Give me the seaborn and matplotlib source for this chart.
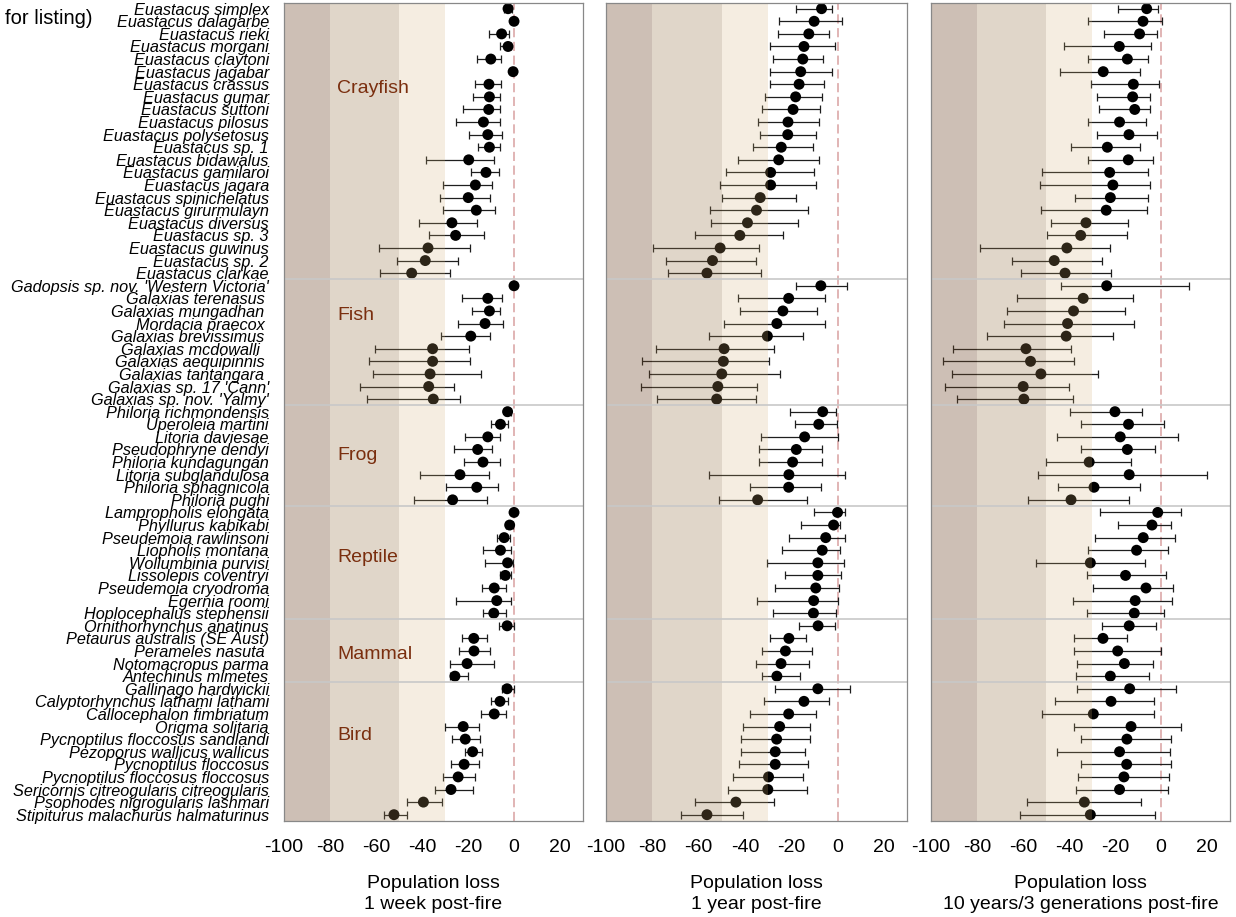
import matplotlib
matplotlib.use("Agg")
import numpy as np
import pandas as pd
import matplotlib.pyplot as plt
import seaborn as sns
from matplotlib import font_manager

species = [
    "Euastacus simplex", "Euastacus dalagarbe", "Euastacus rieki", "Euastacus morgani",
    "Euastacus claytoni", "Euastacus jagabar", "Euastacus crassus", "Euastacus gumar",
    "Euastacus suttoni", "Euastacus pilosus", "Euastacus polysetosus", "Euastacus sp. 1",
    "Euastacus bidawalus", "Euastacus gamilaroi", "Euastacus jagara", "Euastacus spinichelatus",
    "Euastacus girurmulayn", "Euastacus diversus", "Euastacus sp. 3", "Euastacus guwinus",
    "Euastacus sp. 2", "Euastacus clarkae",
    "Gadopsis sp. nov. 'Western Victoria'", "Galaxias terenasus ", "Galaxias mungadhan ",
    "Mordacia praecox ", "Galaxias brevissimus ", "Galaxias mcdowalli  ", "Galaxias aequipinnis ",
    "Galaxias tantangara ", "Galaxias sp. 17 'Cann'", "Galaxias sp. nov. 'Yalmy'",
    "Philoria richmondensis", "Uperoleia martini", "Litoria daviesae", "Pseudophryne dendyi",
    "Philoria kundagungan", "Litoria subglandulosa", "Philoria sphagnicola", "Philoria pughi",
    "Lampropholis elongata", "Phyllurus kabikabi", "Pseudemoia rawlinsoni", "Liopholis montana",
    "Wollumbinia purvisi", "Lissolepis coventryi", "Pseudemoia cryodroma", "Egernia roomi",
    "Hoplocephalus stephensii",
    "Ornithorhynchus anatinus", "Petaurus australis (SE Aust)", "Perameles nasuta ",
    "Notomacropus parma", "Antechinus mimetes",
    "Gallinago hardwickii", "Calyptorhynchus lathami lathami", "Callocephalon fimbriatum",
    "Origma solitaria", "Pycnoptilus floccosus sandlandi", "Pezoporus wallicus wallicus",
    "Pycnoptilus floccosus", "Pycnoptilus floccosus floccosus",
    "Sericornis citreogularis citreogularis", "Psophodes nigrogularis lashmari",
    "Stipiturus malachurus halmaturinus",
]
groups = ["Crayfish", "Fish", "Frog", "Reptile", "Mammal", "Bird"]
group_sizes = [22, 10, 8, 9, 5, 11]

# 1 week post-fire
week_mid = [-2.6, 0, -5.4, -2.6, -10.1, -0.4, -10.9, -10.7, -11.0, -13.3, -11.4, -10.7,
            -19.7, -12.2, -16.8, -19.9, -16.4, -27.0, -25.4, -37.4, -38.6, -44.5,
            0, -11.4, -10.7, -12.6, -18.8, -35.4, -35.4, -36.5, -37.1, -35.1,
            -2.8, -5.9, -11.4, -15.8, -13.5, -23.5, -16.2, -26.7,
            0, -1.9, -4.3, -5.9, -2.8, -3.8, -8.6, -7.5, -8.8,
            -3.0, -17.5, -17.4, -20.4, -25.7,
            -3.0, -6.1, -8.6, -22.1, -21.2, -18.0, -21.7, -24.3, -27.4, -39.4, -52.2]
week_lo = [-4.5, 0, -11.0, -6.0, -16.2, -0.4, -17.1, -17.7, -22.2, -25.1, -19.6, -15.5,
           -38.1, -18.6, -31.0, -32.3, -30.9, -41.3, -36.8, -58.8, -50.9, -58.3,
           0, -22.5, -18.1, -24.2, -31.9, -60.3, -63.2, -61.3, -67.0, -63.8,
           -4.0, -10.0, -21.3, -26.2, -21.9, -41.0, -29.4, -43.6,
           0, -3.3, -7.2, -13.5, -12.5, -5.9, -13.9, -25.4, -13.3,
           -6.7, -22.6, -24.1, -27.8, -27.8,
           -5.1, -10.0, -14.5, -29.9, -26.8, -21.2, -27.4, -30.9, -34.2, -46.4, -56.5]
week_hi = [-1.0, 0, -2.2, -1.5, -5.5, -0.4, -5.5, -6.2, -6.2, -5.9, -5.2, -6.1,
           -8.7, -6.7, -9.7, -10.3, -8.1, -16.1, -13.0, -19.3, -24.3, -27.8,
           0, -5.2, -6.1, -4.8, -10.3, -19.7, -19.1, -14.2, -26.1, -23.3,
           -1.5, -2.8, -6.1, -9.4, -6.1, -10.9, -6.8, -11.7,
           0, -0.4, -1.9, -1.2, -0.4, -1.2, -3.5, -1.2, -3.3,
           0, -11.7, -10.6, -8.8, -20.1,
           0, -2.5, -3.5, -15.4, -14.9, -13.8, -15.4, -17.1, -18.0, -31.4, -46.5]

# 1 year post-fire
year_mid = [-6.9, -10.1, -12.4, -14.5, -15.0, -15.9, -16.6, -18.1, -19.2, -21.4, -21.5, -24.3,
            -25.4, -28.9, -28.9, -33.4, -35.0, -38.9, -42.2, -50.7, -54.0, -56.4,
            -7.2, -21.1, -23.6, -26.2, -30.3, -49.0, -49.3, -50.0, -51.7, -52.2,
            -6.4, -8.1, -14.2, -17.8, -19.4, -21.0, -21.1, -34.5,
            0, -1.7, -5.1, -6.6, -8.5, -8.5, -9.4, -10.3, -10.4,
            -8.4, -21.0, -22.5, -24.4, -26.2,
            -8.5, -14.5, -21.1, -25.0, -26.3, -26.9, -26.9, -29.8, -30.1, -43.9, -56.4]
year_lo = [-17.8, -25.4, -25.9, -29.2, -27.7, -29.2, -29.0, -31.2, -32.5, -34.5, -33.4, -36.6,
           -43.1, -48.3, -50.7, -49.7, -55.1, -54.6, -61.6, -79.9, -74.0, -73.3,
           -17.9, -42.9, -42.2, -49.0, -55.5, -78.6, -84.4, -81.6, -84.8, -77.9,
           -20.5, -18.2, -33.2, -34.1, -33.8, -55.5, -37.9, -51.2,
           -10.3, -15.8, -21.0, -24.0, -30.6, -22.7, -26.9, -34.8, -27.9,
           -16.5, -29.0, -32.8, -35.1, -32.5,
           -26.9, -31.9, -38.0, -40.8, -41.8, -41.9, -42.5, -45.2, -47.3, -61.7, -67.8]
year_hi = [-2.2, 2.0, -3.6, -0.9, -6.4, -2.6, -5.9, -6.9, -7.5, -8.1, -9.5, -10.4,
           -8.1, -10.0, -9.1, -17.8, -12.7, -17.1, -23.4, -34.1, -35.3, -33.1,
           3.9, -5.3, -9.0, -5.3, -14.9, -27.6, -29.8, -24.9, -34.7, -35.1,
           -0.7, -0.4, 0.3, -6.5, -6.8, 3.2, -7.1, -13.3,
           3.3, 0.9, 3.2, 0.9, 2.6, 1.7, 0.6, 0.4, -0.7,
           -0.9, -13.6, -11.0, -12.3, -16.3,
           5.6, -3.5, -9.4, -11.8, -12.1, -14.2, -12.6, -14.7, -13.3, -27.3, -41.0]

# 10 years / 3 generations post-fire
gen_mid = [-6.2, -7.8, -9.3, -18.1, -14.6, -25.1, -12.0, -12.3, -11.4, -18.0, -13.9, -23.3,
           -14.2, -22.3, -20.9, -22.0, -23.8, -32.6, -34.9, -40.9, -46.4, -41.7,
           -23.6, -33.8, -38.0, -40.6, -41.2, -58.7, -56.7, -52.2, -59.9, -59.6,
           -20.0, -14.1, -17.7, -14.6, -31.2, -13.8, -29.1, -39.1,
           -1.4, -3.9, -7.7, -10.6, -30.7, -15.4, -6.5, -11.2, -11.6,
           -13.8, -25.2, -18.8, -15.9, -22.0,
           -13.6, -21.7, -29.4, -13.0, -14.8, -18.0, -14.9, -16.1, -18.0, -33.3, -30.7]
gen_lo = [-18.8, -31.6, -24.8, -42.2, -31.9, -44.1, -30.3, -27.7, -26.8, -31.7, -27.8, -39.3,
          -31.6, -51.7, -52.8, -37.4, -52.2, -48.0, -49.7, -78.8, -64.9, -61.0,
          -43.3, -62.5, -67.1, -68.1, -75.8, -90.6, -94.9, -91.0, -94.1, -88.8,
          -39.6, -34.8, -45.4, -34.8, -50.1, -53.3, -44.8, -58.0,
          -26.7, -18.8, -28.7, -31.9, -54.3, -32.3, -29.7, -38.4, -32.3,
          -25.5, -38.0, -37.8, -36.7, -37.0,
          -36.7, -45.9, -51.7, -37.8, -34.6, -45.4, -34.8, -36.1, -37.1, -58.1, -61.4]
gen_hi = [-1.4, 0.3, -1.6, -4.5, -5.8, -9.0, -1.0, -4.6, -4.9, -6.7, -1.7, -9.0,
          -3.6, -5.8, -4.6, -5.5, -6.2, -14.3, -14.9, -22.2, -25.5, -21.9,
          12.2, -12.3, -15.8, -11.9, -20.9, -39.3, -37.7, -27.2, -39.9, -38.1,
          -8.1, 1.4, 7.5, -2.5, -12.9, 19.9, -9.3, -13.9,
          8.6, 4.2, 5.9, 2.9, -7.0, 2.0, 5.1, 4.9, 1.3,
          -2.0, -14.6, -0.1, -3.3, -5.1,
          6.4, -3.2, -3.2, 8.7, 4.5, 3.9, 4.3, 3.5, 3.2, -8.8, -2.6]

panel_titles = ["Population loss\n1 week post-fire",
                "Population loss\n1 year post-fire",
                "Population loss\n10 years/3 generations post-fire"]
x_ticks = [-100, -80, -60, -40, -20, 0, 20]
band_edges = [(-100, -80), (-80, -50), (-50, -30)]
band_colors = [(0.44, 0.29, 0.17), (0.60, 0.47, 0.31), (0.82, 0.69, 0.455)]
band_alpha = [0.35, 0.30, 0.215]
group_label_y = [6.3, 24.4, 35.5, 43.6, 51.3, 57.7]

sns.set_style("white")
plt.rcParams['font.family'] = ['Liberation Sans', 'DejaVu Sans']
plt.rcParams['text.color'] = 'black'
plt.rcParams['axes.labelcolor'] = 'black'
names = {f.name for f in font_manager.fontManager.ttflist}
narrow = 'Liberation Sans Narrow' if 'Liberation Sans Narrow' in names else 'Liberation Sans'

fig = plt.figure(figsize=(12.36, 9.17), dpi=100)
lefts = [0.2298, 0.4903, 0.7532]
widths = [0.2419, 0.2435, 0.2419]
panels = [(week_mid, week_lo, week_hi), (year_mid, year_lo, year_hi), (gen_mid, gen_lo, gen_hi)]
ypos = np.arange(len(species))
bounds = np.cumsum(group_sizes)[:-1] - 0.5

for i, (mid, lo, hi) in enumerate(panels):
    ax = fig.add_axes([lefts[i], 0.1047, widths[i], 0.892])
    mid = np.array(mid); lo = np.array(lo); hi = np.array(hi)
    df = pd.DataFrame({"loss": mid, "row": ypos})
    ax.axvline(0, color='#d9a0a0', lw=1.1, dashes=(6, 3), zorder=1)
    ax.errorbar(mid, ypos, xerr=[mid - lo, hi - mid], fmt='none', ecolor='#1e1e1e',
                elinewidth=0.9, capsize=3.2, capthick=0.9, zorder=2)
    sns.scatterplot(data=df, x="loss", y="row", ax=ax, color='black', s=62,
                    edgecolor='none', zorder=3, legend=False)
    for (a, b), c, al in zip(band_edges, band_colors, band_alpha):
        ax.axvspan(a, b, color=c, alpha=al, lw=0, zorder=4)
    for b in bounds:
        ax.axhline(b, color='#c8c8c8', lw=1.2, zorder=5)
    ax.set_xlim(-100, 30)
    ax.set_ylim(len(species) - 0.5, -0.45)
    ax.set_xticks(x_ticks)
    ax.set_xticklabels([str(t) for t in x_ticks], family=[narrow, 'DejaVu Sans'], fontsize=14)
    ax.set_yticks(ypos)
    if i == 0:
        ax.set_yticklabels(species, fontstyle='italic', fontsize=11.7)
        for g, gy in zip(groups, group_label_y):
            ax.text(-77, gy, g, color='#7a2e0e', fontsize=14, va='center', ha='left', zorder=6)
    else:
        ax.set_yticklabels([])
    ax.set_xlabel(panel_titles[i], family=[narrow, 'DejaVu Sans'], fontsize=14,
                  labelpad=14, linespacing=1.3)
    ax.set_ylabel("")
    ax.tick_params(axis='both', direction='out', length=7, width=0.8, color='#777777',
                   labelcolor='black', pad=4)
    ax.tick_params(axis='x', pad=6)
    for sp in ax.spines.values():
        sp.set_color('#888888')
        sp.set_linewidth(0.9)
        sp.set_zorder(7)

fig.text(0.004, 0.98, "for listing)", fontsize=14.5, va='center', ha='left')
fig.savefig("out.png", dpi=100)
